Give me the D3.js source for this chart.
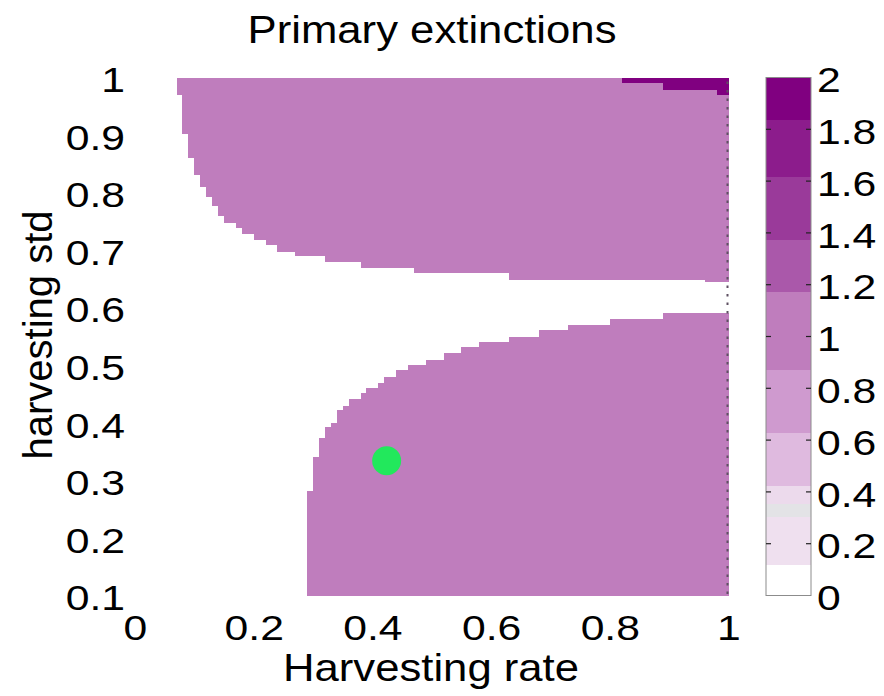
<!DOCTYPE html>
<html>
<head>
<meta charset="utf-8">
<script src="https://cdn.jsdelivr.net/npm/d3@7"></script>
<style>
  html, body { margin: 0; padding: 0; background: #fff; }
  text { font-family: "Liberation Sans", Arial, Helvetica, sans-serif; fill: #000; }
</style>
</head>
<body>
<svg id="chart" width="884" height="696"></svg>
<script>
// ---- data ----
const xTicks = [0, 0.2, 0.4, 0.6, 0.8, 1];
const xTickLabels = ["0", "0.2", "0.4", "0.6", "0.8", "1"];
const yTicks = [0.1, 0.2, 0.3, 0.4, 0.5, 0.6, 0.7, 0.8, 0.9, 1];
const yTickLabels = ["0.1", "0.2", "0.3", "0.4", "0.5", "0.6", "0.7", "0.8", "0.9", "1"];

// upper region (value 1): column start (harvesting rate) and lower edge (std); extends up to std = 1
const upperColX = [0.07, 0.08, 0.09, 0.10, 0.11, 0.12, 0.13, 0.14, 0.15, 0.17, 0.18, 0.20, 0.22, 0.24, 0.27, 0.32, 0.38, 0.47, 0.63, 0.96];
const upperColBottom = [0.970, 0.902, 0.860, 0.830, 0.809, 0.792, 0.776, 0.760, 0.748, 0.738, 0.728, 0.718, 0.709, 0.697, 0.690, 0.680, 0.669, 0.661, 0.649, 0.644];

// lower region (value 1): column start and upper edge; extends down to std = 0.1
const lowerColX = [0.29, 0.30, 0.31, 0.32, 0.33, 0.34, 0.35, 0.36, 0.38, 0.39, 0.41, 0.42, 0.44, 0.46, 0.49, 0.52, 0.55, 0.58, 0.63, 0.68, 0.73, 0.80, 0.89];
const lowerColTop = [0.282, 0.341, 0.374, 0.393, 0.399, 0.422, 0.429, 0.441, 0.451, 0.460, 0.470, 0.479, 0.491, 0.500, 0.510, 0.522, 0.531, 0.541, 0.550, 0.561, 0.570, 0.580, 0.590];

// top-right patch (value 2): column start and lower edge; extends up to std = 1
const highColX = [0.82, 0.89, 0.98];
const highColBottom = [0.991, 0.978, 0.970];

// marked point (green dot)
const pointX = [0.424];
const pointY = [0.334];

// colour bar: band thresholds and colours (low to high)
const cbThresholds = [0.117, 0.303, 0.352, 0.421, 0.628, 0.869, 1.172, 1.372, 1.614, 1.834];
const cbColors = ["#ffffff", "#efe0ef", "#e3e3e6", "#ecdaec", "#dfbadf", "#cf9acf", "#bf7dbd", "#aa58aa", "#9a3a9a", "#8c1c8c", "#800080"];
const cbTicks = [0, 0.2, 0.4, 0.6, 0.8, 1, 1.2, 1.4, 1.6, 1.8, 2];
const cbTickLabels = ["0", "0.2", "0.4", "0.6", "0.8", "1", "1.2", "1.4", "1.6", "1.8", "2"];

// ---- drawing ----
const svg = d3.select("#chart");
const x = d3.scaleLinear().domain([0, 1]).range([135, 728.5]);
const y = d3.scaleLinear().domain([0.1, 1]).range([595.5, 77.5]);
const color = d3.scaleThreshold().domain(cbThresholds).range(cbColors);
const FONT = "Liberation Sans, Arial, sans-serif";
const TICK_SIZE = "35px", TICK_SX = 1.22;

function runs(xs, edges, isUpper, v) {
  return xs.map((x0, i) => ({
    x0, x1: i < xs.length - 1 ? xs[i + 1] : 1,
    y0: isUpper ? edges[i] : 0.1,
    y1: isUpper ? 1 : edges[i],
    v
  }));
}
const cells = [].concat(
  runs(upperColX, upperColBottom, true, 1),
  runs(lowerColX, lowerColTop, false, 1),
  runs(highColX, highColBottom, true, 2)
);

svg.append("g").selectAll("rect").data(cells).join("rect")
  .attr("x", d => x(d.x0))
  .attr("width", d => x(d.x1) - x(d.x0) + 0.5)
  .attr("y", d => y(d.y1))
  .attr("height", d => y(d.y0) - y(d.y1))
  .attr("fill", d => color(d.v))
  .attr("shape-rendering", "crispEdges");

// dotted last column at the right edge
svg.append("line")
  .attr("x1", x(1) - 1).attr("x2", x(1) - 1)
  .attr("y1", y(1) + 4).attr("y2", y(0.1))
  .attr("stroke", "#5e5062").attr("stroke-width", 2)
  .attr("stroke-dasharray", "2.5,6");

// green point
svg.append("g").selectAll("circle").data(pointX).join("circle")
  .attr("cx", (d, i) => x(d)).attr("cy", (d, i) => y(pointY[i]))
  .attr("r", 14.5).attr("fill", "#22e85c");

// axes (tick labels only, no axis lines)
const xAxis = d3.axisBottom(x).tickValues(xTicks).tickFormat((d, i) => xTickLabels[i]).tickSize(0).tickPadding(0);
const gx = svg.append("g").attr("transform", "translate(0,615)").call(xAxis);
gx.select(".domain").remove();
gx.selectAll("text").attr("dy", "0.71em").attr("y", 0).style("font-size", TICK_SIZE).style("font-family", FONT)
  .attr("fill", "#000").attr("transform", `scale(${TICK_SX},1)`);

const yAxis = d3.axisLeft(y).tickValues(yTicks).tickFormat((d, i) => yTickLabels[i]).tickSize(0).tickPadding(0);
const gy = svg.append("g").attr("transform", "translate(125,3)").call(yAxis);
gy.select(".domain").remove();
gy.selectAll("text").attr("x", 0).style("font-size", TICK_SIZE).style("font-family", FONT)
  .attr("fill", "#000").attr("transform", `scale(${TICK_SX},1)`);

// titles
svg.append("text").attr("transform", "translate(432,43) scale(1.15,1)").attr("text-anchor", "middle")
  .style("font-size", "38px").text("Primary extinctions");
svg.append("text").attr("transform", "translate(431,681) scale(1.12,1)").attr("text-anchor", "middle")
  .style("font-size", "39px").text("Harvesting rate");
svg.append("text").attr("transform", "translate(52,335) rotate(-90)").attr("text-anchor", "middle")
  .style("font-size", "40px").text("harvesting std");

// colour bar
const cb = d3.scaleLinear().domain([0, 2]).range([595.5, 77.5]);
const cbX = 766, cbW = 45;
const bandEdges = [0].concat(cbThresholds, [2]);
const bands = cbColors.map((c, i) => ({ lo: bandEdges[i], hi: bandEdges[i + 1], c }));
const gcb = svg.append("g");
gcb.selectAll("rect").data(bands).join("rect")
  .attr("x", cbX).attr("width", cbW)
  .attr("y", d => cb(d.hi)).attr("height", d => cb(d.lo) - cb(d.hi))
  .attr("fill", d => d.c).attr("shape-rendering", "crispEdges");
gcb.append("rect").attr("x", cbX).attr("y", cb(2)).attr("width", cbW).attr("height", cb(0) - cb(2))
  .attr("fill", "none").attr("stroke", "#8c8c8c").attr("stroke-width", 1);
const inner = cbTicks.filter(t => t > 0 && t < 2);
gcb.selectAll("line.l").data(inner).join("line").attr("class", "l")
  .attr("x1", cbX).attr("x2", cbX + 5).attr("y1", d => cb(d)).attr("y2", d => cb(d))
  .attr("stroke", "#222").attr("stroke-width", 1.2);
gcb.selectAll("line.r").data(inner).join("line").attr("class", "r")
  .attr("x1", cbX + cbW - 5).attr("x2", cbX + cbW).attr("y1", d => cb(d)).attr("y2", d => cb(d))
  .attr("stroke", "#222").attr("stroke-width", 1.2);
const cbAxis = d3.axisRight(cb).tickValues(cbTicks).tickFormat((d, i) => cbTickLabels[i]).tickSize(0).tickPadding(0);
const gcbA = svg.append("g").attr("transform", `translate(${cbX + cbW + 6},3)`).call(cbAxis);
gcbA.select(".domain").remove();
gcbA.selectAll("text").attr("x", 0).style("font-size", TICK_SIZE).style("font-family", FONT)
  .attr("fill", "#000").attr("transform", `scale(${TICK_SX},1)`);
</script>
</body>
</html>
